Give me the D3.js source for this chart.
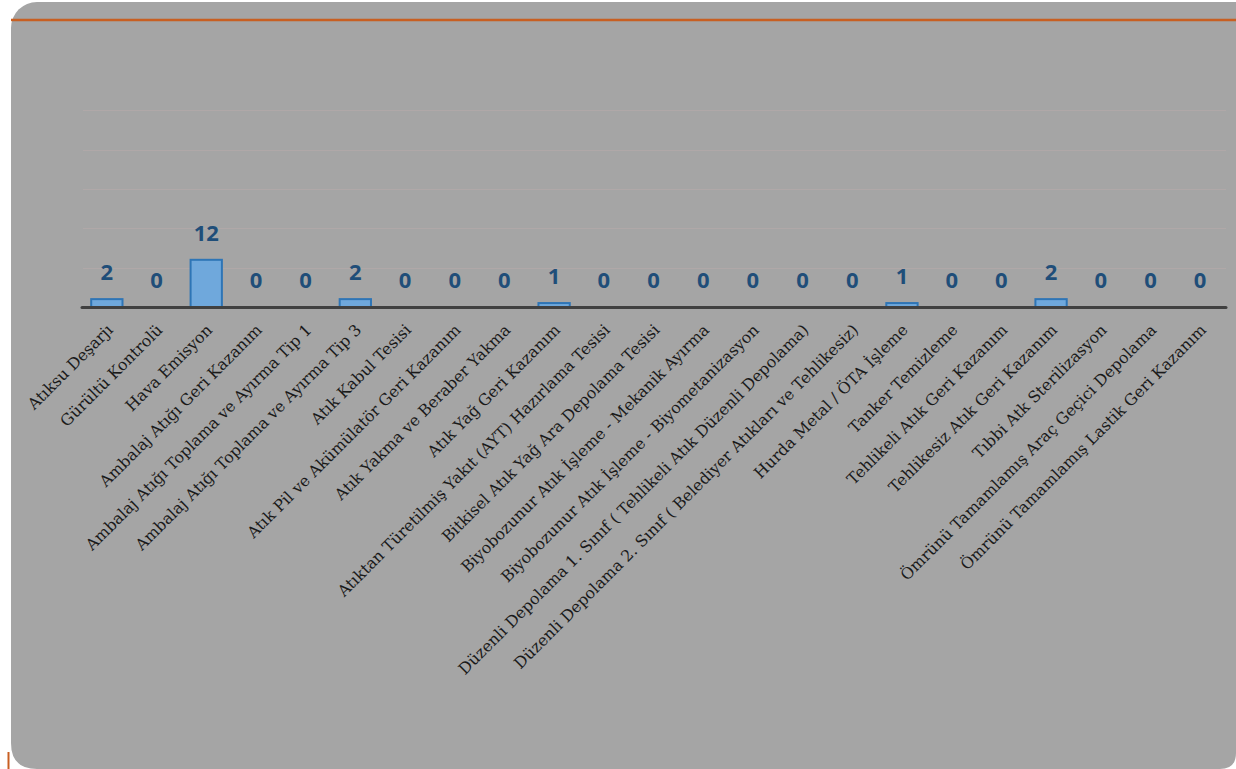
<!DOCTYPE html>
<html lang="tr">
<head>
<meta charset="utf-8">
<script src="https://cdn.jsdelivr.net/npm/d3@7/dist/d3.min.js"></script>
<style>
  html, body { margin: 0; padding: 0; background: #ffffff; }
  svg { display: block; }
</style>
</head>
<body>
<svg id="chart" width="1236" height="769"></svg>
<script>
// Tesis türlerine göre izin sayıları
const categories = [
  "Atıksu Deşarjı",
  "Gürültü Kontrolü",
  "Hava Emisyon",
  "Ambalaj Atığı Geri Kazanım",
  "Ambalaj Atığı Toplama ve Ayırma Tip 1",
  "Ambalaj Atığı Toplama ve Ayırma Tip 3",
  "Atık Kabul Tesisi",
  "Atık Pil ve Akümülatör Geri Kazanım",
  "Atık Yakma ve Beraber Yakma",
  "Atık Yağ Geri Kazanım",
  "Atıktan Türetilmiş Yakıt (AYT) Hazırlama Tesisi",
  "Bitkisel Atık Yağ Ara Depolama Tesisi",
  "Biyobozunur Atık İşleme - Mekanik Ayırma",
  "Biyobozunur Atık İşleme - Biyometanizasyon",
  "Düzenli Depolama 1. Sınıf ( Tehlikeli Atık Düzenli Depolama)",
  "Düzenli Depolama 2. Sınıf ( Belediyer Atıkları ve Tehlikesiz)",
  "Hurda Metal / ÖTA İşleme",
  "Tanker Temizleme",
  "Tehlikeli Atık Geri Kazanım",
  "Tehlikesiz Atık Geri Kazanım",
  "Tıbbi Atk Sterilizasyon",
  "Ömrünü Tamamlamış Araç Geçici Depolama",
  "Ömrünü Tamamlamış Lastik Geri Kazanım"
];
const values = [2, 0, 12, 0, 0, 2, 0, 0, 0, 1, 0, 0, 0, 0, 0, 0, 1, 0, 0, 2, 0, 0, 0];
const yDomain = [0, 60];
const gridValues = [10, 20, 30, 40, 50];

const svg = d3.select("#chart");
const W = 1236, H = 769;

// Kart arka planı
const cardX = 11, cardY = 2, cardR = 26;
svg.append("rect")
  .attr("x", cardX).attr("y", cardY)
  .attr("width", W - cardX + 30).attr("height", H - cardY + 30)
  .attr("rx", cardR).attr("ry", cardR)
  .attr("fill", "#a5a5a5");

// Alt köşelerin yuvarlatılması
svg.append("path")
  .attr("d", `M${cardX},${H - 26} Q${cardX},${H} ${cardX + 26},${H} L${cardX},${H} Z`)
  .attr("fill", "#ffffff");
svg.append("path")
  .attr("d", `M${W},${H - 16} Q${W},${H} ${W - 16},${H} L${W},${H} Z`)
  .attr("fill", "#ffffff");

// Turuncu üst çizgi
svg.append("line")
  .attr("x1", cardX).attr("x2", W)
  .attr("y1", 20).attr("y2", 20)
  .attr("stroke", "#c85f22").attr("stroke-width", 2.5);

// Sol alt küçük turuncu işaret
svg.append("line")
  .attr("x1", 8.5).attr("x2", 8.5)
  .attr("y1", 752).attr("y2", H)
  .attr("stroke", "#c85f22").attr("stroke-width", 2);

// Ölçekler
const x = d3.scaleBand()
  .domain(categories)
  .range([82, 1225])
  .paddingInner(0.37)
  .paddingOuter(0.185);

const y = d3.scaleLinear()
  .domain(yDomain)
  .range([307, 71]);

// Yatay ızgara çizgileri
svg.append("g")
  .selectAll("line")
  .data(gridValues)
  .join("line")
  .attr("x1", 83).attr("x2", 1226)
  .attr("y1", d => Math.round(y(d)) + 0.5)
  .attr("y2", d => Math.round(y(d)) + 0.5)
  .attr("stroke", "#b0a8a8")
  .attr("stroke-width", 1);

// Sütunlar
svg.append("g")
  .selectAll("rect")
  .data(values)
  .join("rect")
  .attr("x", (d, i) => x(categories[i]))
  .attr("y", d => y(d))
  .attr("width", x.bandwidth())
  .attr("height", d => y(0) - y(d))
  .attr("fill", "#6fa8dc")
  .attr("stroke", "#2e75b6")
  .attr("stroke-width", 2);

// Yatay eksen çizgisi
svg.append("line")
  .attr("x1", 82).attr("x2", 1226)
  .attr("y1", 307.5).attr("y2", 307.5)
  .attr("stroke", "#404040")
  .attr("stroke-width", 3)
  .attr("stroke-linecap", "round");

// Değer etiketleri
svg.append("g")
  .selectAll("text")
  .data(values)
  .join("text")
  .attr("x", (d, i) => x(categories[i]) + x.bandwidth() / 2)
  .attr("y", d => y(d) - 19)
  .attr("text-anchor", "middle")
  .attr("font-family", "'Open Sans', 'DejaVu Sans', sans-serif")
  .attr("font-weight", "bold")
  .attr("font-size", 22)
  .attr("fill", "#1f4e79")
  .text(d => d);

// Kategori etiketleri (45° eğik)
svg.append("g")
  .selectAll("text")
  .data(categories)
  .join("text")
  .attr("transform", d => `translate(${x(d) + x.bandwidth() / 2 + 7},${331}) rotate(-45)`)
  .attr("text-anchor", "end")
  .attr("font-family", "'DejaVu Serif', serif")
  .attr("font-size", 15.8)
  .attr("fill", "#1a1a1a")
  .text(d => d);
</script>
</body>
</html>
